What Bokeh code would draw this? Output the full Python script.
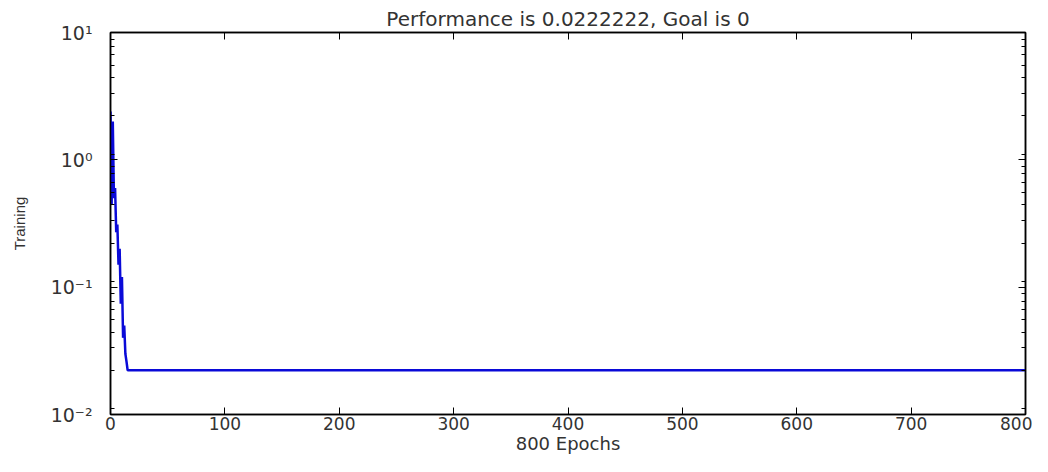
from bokeh.plotting import figure
from bokeh.models import LogAxis, LinearAxis, LogTicker, FixedTicker, CustomJSTickFormatter, Range1d
from bokeh.embed import file_html
from bokeh.resources import INLINE

# Data
epochs = [0, 1, 2, 3, 4, 5, 6, 7, 8, 9, 10, 11, 12, 13, 14, 15, 800]
performance = [2.4, 0.45, 2.0, 0.5, 0.6, 0.27, 0.31, 0.15, 0.2, 0.074, 0.12, 0.04, 0.05, 0.03, 0.026, 0.0222222, 0.0222222]
x_ticks = [0, 100, 200, 300, 400, 500, 600, 700, 800]
title_text = "Performance is 0.0222222, Goal is 0"
x_label = "800 Epochs"
y_label = "Training"

FONT = "DejaVu Sans"
TXT = "#333333"

p = figure(width=1032, height=456, output_backend="svg", toolbar_location=None,
           y_axis_type="log", x_range=Range1d(0, 800), y_range=Range1d(0.01, 10),
           min_border_left=110, min_border_right=7, min_border_top=32, min_border_bottom=40,
           title=title_text)
p.title.align = "center"
p.title.text_font = FONT
p.title.text_font_style = "normal"
p.title.text_font_size = "20px"
p.title.text_color = TXT
p.title.standoff = 4

p.line(epochs, performance, line_color="#0a0ad8", line_width=2.5)

p.xgrid.visible = False
p.ygrid.visible = False
p.outline_line_color = "black"
p.outline_line_width = 1.5

sup = CustomJSTickFormatter(code="""
const e = Math.round(Math.log10(tick));
const m = {'-':'\u207b','0':'\u2070','1':'\u00b9','2':'\u00b2','3':'\u00b3'};
return '10' + String(e).split('').map(c => m[c]).join('');
""")
blank = CustomJSTickFormatter(code="return '';")

def style_axis(ax):
    ax.axis_line_color = "black"
    ax.axis_line_width = 1.5
    ax.major_tick_in = 7
    ax.major_tick_out = 0
    ax.minor_tick_in = 4
    ax.minor_tick_out = 0
    ax.major_tick_line_color = "black"
    ax.minor_tick_line_color = "black"
    ax.major_label_text_font = FONT
    ax.major_label_text_font_size = "17px"
    ax.major_label_text_color = TXT
    ax.axis_label_text_font = FONT
    ax.axis_label_text_font_style = "normal"
    ax.axis_label_text_font_size = "18px"
    ax.axis_label_text_color = TXT

# bottom x axis
xa = p.xaxis[0]
style_axis(xa)
xa.ticker = FixedTicker(ticks=x_ticks)
xa.minor_tick_in = 0
xa.major_label_standoff = 2
xa.axis_label = x_label
xa.axis_label_standoff = 0

# left y axis
ya = p.yaxis[0]
style_axis(ya)
ya.ticker = LogTicker(num_minor_ticks=9, desired_num_ticks=4)
ya.formatter = sup
ya.major_label_standoff = 18
ya.major_label_text_font_size = "19px"
ya.axis_label = y_label
ya.axis_label_text_font = "Liberation Sans"
ya.axis_label_text_font_size = "15px"
ya.axis_label_standoff = 20

# top axis (ticks only)
top = LinearAxis(ticker=FixedTicker(ticks=x_ticks), formatter=blank)
style_axis(top)
top.minor_tick_in = 0
top.major_label_text_font_size = "1px"
top.major_label_text_color = None
top.major_label_standoff = 0
p.add_layout(top, "above")

# right axis (ticks only)
right = LogAxis(ticker=LogTicker(num_minor_ticks=9, desired_num_ticks=4), formatter=blank)
style_axis(right)
right.major_label_text_font_size = "1px"
right.major_label_text_color = None
right.major_label_standoff = 0
p.add_layout(right, "right")

open("out.html", "w").write(file_html(p, INLINE))
